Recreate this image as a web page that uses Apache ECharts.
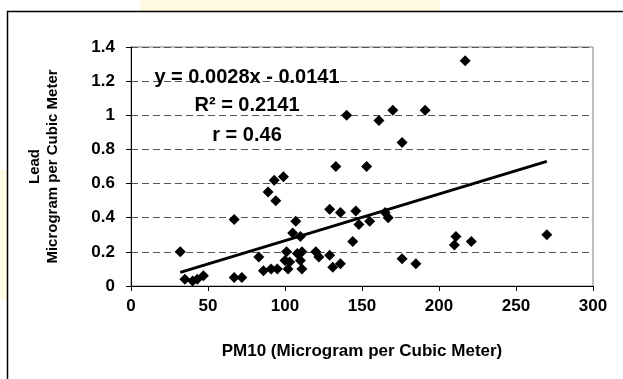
<!DOCTYPE html>
<html>
<head>
<meta charset="utf-8">
<script src="https://cdn.jsdelivr.net/npm/echarts@6/dist/echarts.min.js"></script>
<style>
  html, body { margin: 0; padding: 0; background: #fff; }
  #chart { width: 623px; height: 379px; }
</style>
</head>
<body>
<div id="chart"></div>
<script>
// PM10 vs lead readings
const pm10 = [32, 35, 40, 43, 47, 67, 67, 72, 83, 86, 89, 91, 93, 94, 95, 99,
  100, 101, 102, 103, 105, 107, 108, 110, 110, 111, 111, 120, 122, 129, 129,
  131, 133, 136, 136, 140, 144, 146, 148, 153, 155, 161, 165, 167, 170, 176,
  176, 185, 191, 210, 211, 217, 221, 270];
const lead = [0.20, 0.04, 0.03, 0.04, 0.06, 0.39, 0.05, 0.05, 0.17, 0.09, 0.55, 0.10, 0.62, 0.50, 0.10, 0.64,
  0.15, 0.20, 0.10, 0.14, 0.31, 0.38, 0.19, 0.29, 0.15, 0.10, 0.20, 0.20, 0.17, 0.18, 0.45,
  0.11, 0.70, 0.13, 0.43, 1.00, 0.26, 0.44, 0.36, 0.70, 0.38, 0.97, 0.43, 0.40, 1.03, 0.84,
  0.16, 0.13, 1.03, 0.24, 0.29, 1.32, 0.26, 0.30];

// fitted line ends as drawn
const trendX = [32, 270];
const trendY = [0.08, 0.73];

const eqLines = ['y = 0.0028x - 0.0141', 'R\u00B2 = 0.2141', 'r = 0.46'];
const xName = 'PM10 (Microgram per Cubic Meter)';
const yName = 'Lead\nMicrogram per Cubic Meter';

const chart = echarts.init(document.getElementById('chart'));
const font = '"Liberation Sans", Arial, sans-serif';

chart.setOption({
  animation: false,
  grid: { left: 131, right: 30, top: 47, bottom: 93, show: true, borderColor: '#808080', borderWidth: 1 },
  xAxis: {
    type: 'value', min: 0, max: 300, interval: 50,
    name: xName, nameLocation: 'middle', nameGap: 57,
    nameTextStyle: { fontFamily: font, fontWeight: 'bold', fontSize: 17, color: '#000' },
    axisLine: { lineStyle: { color: '#000', width: 1 } },
    axisTick: { show: true, inside: false, length: 5, lineStyle: { color: '#000' } },
    axisLabel: { fontFamily: font, fontWeight: 'bold', fontSize: 17, color: '#000', margin: 12 },
    splitLine: { show: false }
  },
  yAxis: {
    type: 'value', min: 0, max: 1.4, interval: 0.2,
    name: yName, nameLocation: 'middle', nameGap: 69, nameRotate: 90,
    nameTextStyle: { fontFamily: font, fontWeight: 'bold', fontSize: 15, color: '#000', lineHeight: 18 },
    axisLine: { show: true, lineStyle: { color: '#000', width: 1 } },
    axisTick: { show: true, inside: false, length: 5, lineStyle: { color: '#000' } },
    axisLabel: { fontFamily: font, fontWeight: 'bold', fontSize: 17, color: '#000', margin: 16 },
    splitLine: { show: true, lineStyle: { color: '#555', type: [7, 4], width: 1 } }
  },
  graphic: [
    { type: 'rect', z: -10, shape: { x: 140, y: 0, width: 300, height: 11 }, style: { fill: '#fefae3' } },
    { type: 'rect', z: -10, shape: { x: 0, y: 170, width: 7, height: 130 }, style: { fill: '#fefae3' } },
    { type: 'rect', z: 50, shape: { x: 7.5, y: 11.5, width: 700, height: 500 },
      style: { fill: 'transparent', stroke: '#000', lineWidth: 1.5 } },
    ...eqLines.map((t, i) => ({
      type: 'text', z: 100,
      style: {
        x: 247, y: [77, 105, 135][i], text: t,
        font: 'bold 20px ' + font, fill: '#000',
        textAlign: 'center', textVerticalAlign: 'middle'
      }
    }))
  ],
  series: [
    {
      type: 'scatter',
      symbol: 'diamond',
      symbolSize: 11,
      itemStyle: { color: '#000', opacity: 1 },
      data: pm10.map((x, i) => [x, lead[i]])
    },
    {
      type: 'line',
      symbol: 'none',
      lineStyle: { color: '#000', width: 3 },
      data: trendX.map((x, i) => [x, trendY[i]])
    }
  ]
});
</script>
</body>
</html>
